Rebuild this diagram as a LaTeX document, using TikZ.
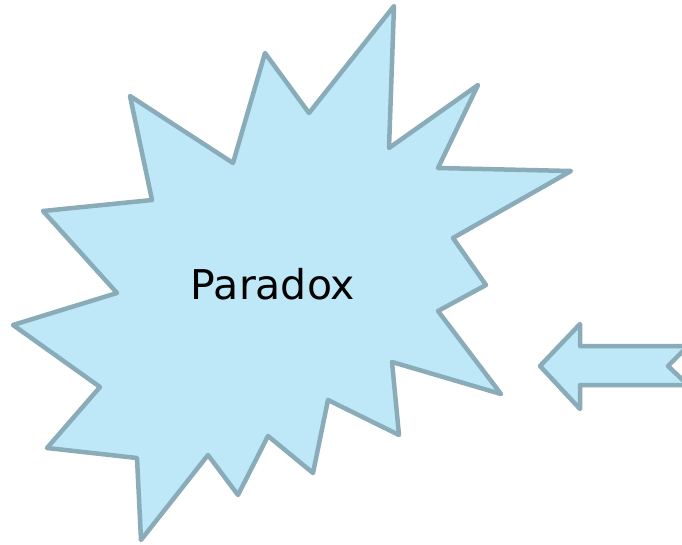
\documentclass[tikz,border=0pt]{standalone}
\usepackage{fontspec}
\setmainfont{DejaVu Sans}
\definecolor{burstfill}{HTML}{BEE8F7}
\definecolor{burstline}{HTML}{8AABB8}
\tikzset{
  shapestyle/.style={fill=burstfill, draw=burstline, line width=4.5pt, line join=round},
}
\begin{document}
\begin{tikzpicture}[x=1pt,y=-1pt]
\useasboundingbox (0,0) rectangle (682,544);
\clip (0,0) rectangle (682,544);
\draw[shapestyle] (394,6) -- (389,148) -- (478,85) -- (438,168) -- (571,171) -- (453,238)
  -- (486,285) -- (438,311) -- (501,394) -- (392,362) -- (399,435) -- (328,400)
  -- (313,473) -- (268,436) -- (238,495) -- (208,455) -- (141,540) -- (137,458)
  -- (47,448) -- (100,387) -- (13,325) -- (117,293) -- (43,211) -- (152,200)
  -- (130,96) -- (233,163) -- (265,53) -- (309,113) -- cycle;
\node[font=\fontsize{41}{49}\selectfont, inner sep=0pt] (label) at (273,284) {Paradox};
\draw[shapestyle] (540,366) -- (580,324) -- (580,346) -- (688,346) -- (668,366)
  -- (688,385) -- (580,385) -- (580,409) -- cycle;
\end{tikzpicture}
\end{document}
